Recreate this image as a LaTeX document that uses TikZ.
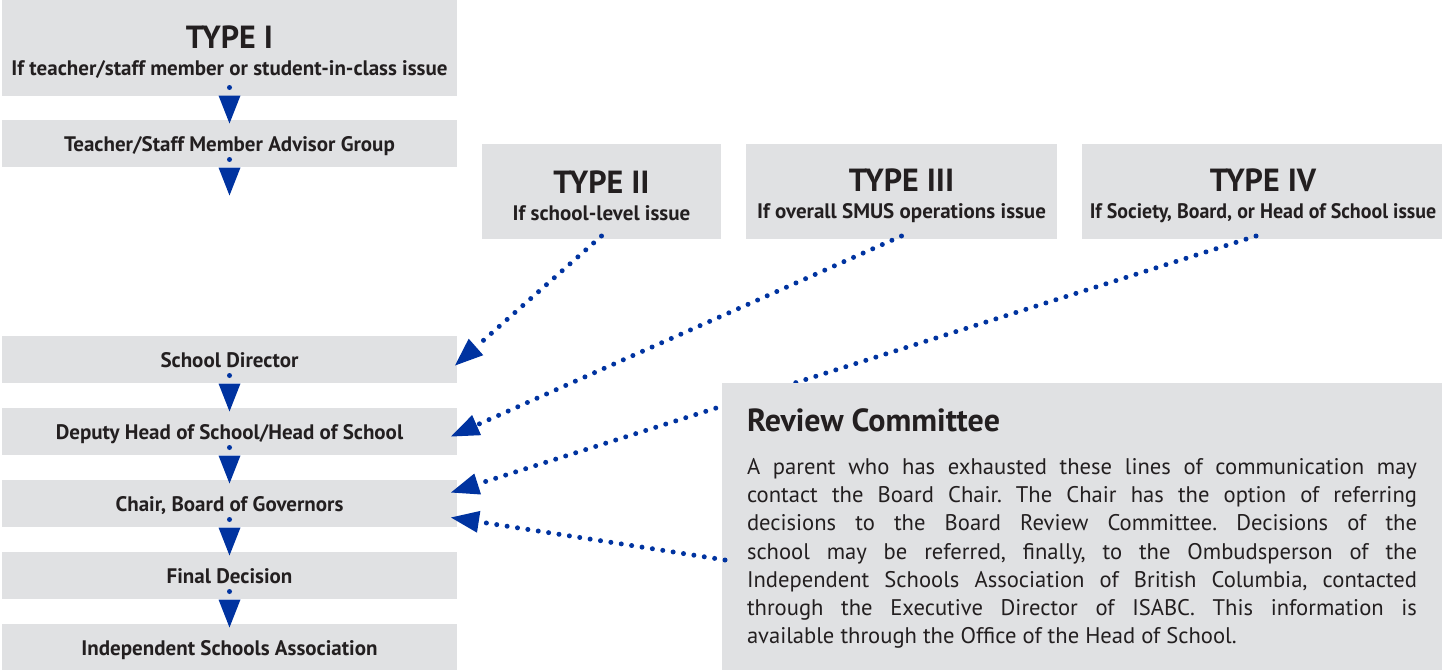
\documentclass[tikz,border=0pt]{standalone}
\usepackage{fontspec}
\setmainfont{PT Sans}
\usetikzlibrary{positioning}
\usetikzlibrary{arrows.meta}
\definecolor{boxgray}{RGB}{224,225,227}
\definecolor{flowblue}{RGB}{0,51,160}
\definecolor{inkdark}{RGB}{35,31,32}
\newcommand\typehead{\fontsize{32}{34}\selectfont\bfseries\rule{0pt}{31pt}}
\newcommand\typesub{\fontsize{21}{27}\selectfont\bfseries}

\begin{document}
\begin{tikzpicture}
    [
    x=1pt, y=-1pt,
    every node/.style={text=inkdark, outer sep=0pt},
    stepbox/.style={fill=boxgray, minimum width=455pt, minimum height=47pt, inner sep=0pt,
        text height=20pt, text depth=3pt, font=\typesub},
    typebox/.style={fill=boxgray, minimum height=95pt, inner sep=0pt, align=center, font=\typesub},
    flow/.style={draw=flowblue, line width=5pt, line cap=round, dash pattern=on 0pt off 10.5pt,
        -{Triangle[length=28pt, width=22pt, line width=0pt, fill=flowblue]}},
    ]

    \useasboundingbox (0,0) rectangle (1442,669);

    \node[typebox, minimum width=455pt] (type_one) at (229.5,48)
    {{\typehead TYPE I}\\If teacher/staff member or student-in-class issue};
    \node[stepbox, below=24pt of type_one] (grp_advisor) {Teacher/Staff Member Advisor Group};
    \coordinate[below=29pt of grp_advisor] (advisor_end);

    \node[stepbox, below=169pt of grp_advisor] (step_director) {School Director};
    \node[stepbox, below=25pt of step_director] (step_deputy) {Deputy Head of School/Head of School};
    \node[stepbox, below=25pt of step_deputy] (step_chair) {Chair, Board of Governors};
    \node[stepbox, below=25pt of step_chair] (step_final) {Final Decision};
    \node[stepbox, below=25pt of step_final] (step_isa) {Independent Schools Association};

    \node[typebox, minimum width=239pt] (type_two) at (601.5,191.5)
    {{\typehead TYPE II}\\If school-level issue};
    \node[typebox, minimum width=311pt, right=25pt of type_two] (type_three)
    {{\typehead TYPE III}\\If overall SMUS operations issue};
    \node[typebox, minimum width=362pt, right=25pt of type_three] (type_four)
    {{\typehead TYPE IV}\\\scalebox{0.95}[1]{If Society, Board, or Head of School issue}};

    \draw[flow] ([yshift=8pt]type_one.south) -- ([yshift=-4pt]grp_advisor.north);
    \draw[flow] ([yshift=7pt]grp_advisor.south) -- (advisor_end);
    \foreach \from/\to in {step_director/step_deputy, step_deputy/step_chair, step_chair/step_final, step_final/step_isa}
        \draw[flow] ([yshift=7pt]\from.south) -- ([yshift=-4pt]\to.north);

    \draw[flow] ([yshift=3pt]type_two.south) -- ([xshift=-2pt, yshift=-6.5pt]step_director.east);
    \draw[flow] ([yshift=3pt]type_three.south) -- ([xshift=-6pt, yshift=-5.5pt]step_deputy.east);
    \draw[flow] ([xshift=-7pt, yshift=3pt]type_four.south) -- ([xshift=-6pt, yshift=10.5pt]step_chair.east);

    \node[fill=boxgray, minimum width=724pt, minimum height=290pt, inner sep=0pt, anchor=north west] (review) at (722,383) {};
    \node[anchor=north west, text width=670pt, inner sep=0pt, align=justify] (review_text) at (747,409)
    {{\fontsize{32}{34}\selectfont\bfseries Review Committee\par}\vspace{14pt}
    \fontsize{22.6}{28.3}\selectfont\frenchspacing
    A parent who has exhausted these lines of communication may\linebreak
    contact the Board Chair. The Chair has the option of referring\linebreak
    decisions to the Board Review Committee. Decisions of the\linebreak
    school may be referred, finally, to the Ombudsperson of the\linebreak
    Independent Schools Association of British Columbia, contacted\linebreak
    through the Executive Director of ISABC. This information is\linebreak
    available through the Office of the Head of School.\par};

    \draw[flow] ([xshift=3pt, yshift=-32pt]review.west) -- ([xshift=-6pt, yshift=-14.5pt]step_chair.east);
\end{tikzpicture}
\end{document}
